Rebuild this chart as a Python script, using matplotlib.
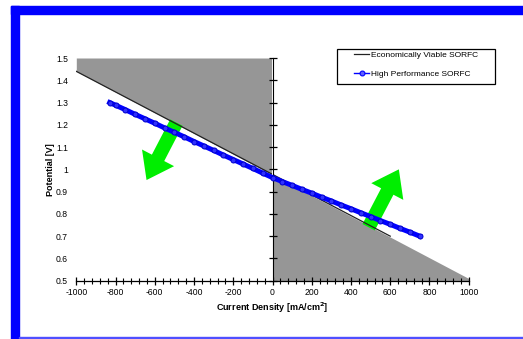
import matplotlib
matplotlib.use("Agg")
import matplotlib.pyplot as plt
import numpy as np
from matplotlib.patches import FancyArrowPatch, Rectangle
from matplotlib.lines import Line2D
from matplotlib.ticker import MultipleLocator

plt.rcParams['font.family'] = ['Liberation Sans', 'DejaVu Sans']

# Economically viable SORFC line
econ_x = [-1000, 600]
econ_y = [1.44, 0.70]

# Gray region boundary (extension of the economic line)
bound_x = [-1000, 0, 1000]
bound_y = [1.44, 0.975, 0.51]

# High performance SORFC
hp_x = [-830, -800, -750, -700, -650, -600, -550, -500, -450, -400, -350, -300,
        -250, -200, -150, -100, -50, 0, 50, 100, 150, 200, 250, 300, 350, 400,
        450, 500, 550, 600, 650, 700, 750]
hp_y = [1.300, 1.288, 1.268, 1.247, 1.227, 1.207, 1.186, 1.166, 1.146, 1.125,
        1.105, 1.085, 1.064, 1.044, 1.024, 1.004, 0.983, 0.963, 0.945, 0.928,
        0.910, 0.893, 0.875, 0.858, 0.840, 0.823, 0.805, 0.788, 0.770, 0.753,
        0.735, 0.718, 0.700]

x_ticks = [-1000, -800, -600, -400, -200, 0, 200, 400, 600, 800, 1000]
y_ticks = [0.5, 0.6, 0.7, 0.8, 0.9, 1.0, 1.1, 1.2, 1.3, 1.4, 1.5]
y_labels = ['0.5', '0.6', '0.7', '0.8', '0.9', '1', '1.1', '1.2', '1.3', '1.4', '1.5']

series_names = ['Economically Viable SORFC', 'High Performance SORFC']

W, H = 523, 339
fig = plt.figure(figsize=(W / 100, H / 100), dpi=100)
fig.patch.set_facecolor('white')

# blue frame
blue = '#0000ff'
fig.patches.append(Rectangle((11 / W, 0), 8 / W, (H - 6) / H, transform=fig.transFigure,
                             color=blue, zorder=0))
fig.patches.append(Rectangle((11 / W, (H - 14) / H), (W - 11) / W, 8 / H,
                             transform=fig.transFigure, color=blue, zorder=0))
fig.patches.append(Rectangle((19 / W, 1 / H), (W - 19) / W, 1.2 / H,
                             transform=fig.transFigure, color='#5050ff', zorder=0))

ax = fig.add_axes([76.3 / W, 1 - 280.7 / H, (468.7 - 76.3) / W, (280.7 - 58) / H])
ax.set_xlim(-1000, 1000)
ax.set_ylim(0.5, 1.5)

bx = np.array(bound_x, dtype=float)
by = np.array(bound_y, dtype=float)
ax.fill_between(bx[:2], by[:2], 1.5, color='#969696', lw=0, zorder=1)
ax.fill_between(bx[1:], 0.5, by[1:], color='#969696', lw=0, zorder=1)

ax.plot(econ_x, econ_y, color='#222222', lw=0.9, zorder=3)
ax.plot(hp_x, hp_y, color='#0000ff', lw=3.6, marker='o', ms=3.6, mfc='#3030ff',
        mec='#0000cc', mew=0.7, zorder=4)

# green arrows
for (x0, y0), (x1, y1) in [((-490, 1.21), (-642, 0.952)), ((490, 0.74), (644, 1.0))]:
    arr = FancyArrowPatch((x0, y0), (x1, y1),
                          arrowstyle='simple,head_width=2.6,head_length=1.8,tail_width=1.0',
                          mutation_scale=10, color='#00ee00', lw=0, zorder=2,
                          shrinkA=0, shrinkB=0)
    ax.add_patch(arr)

for s in ['top', 'right', 'left']:
    ax.spines[s].set_visible(False)
ax.spines['bottom'].set_linewidth(0.9)

ax.set_xticks(x_ticks)
ax.set_xticklabels([str(t) for t in x_ticks])
ax.xaxis.set_minor_locator(MultipleLocator(40))
ax.tick_params(axis='x', which='major', direction='inout', length=6, width=0.9,
               labelsize=6.2, pad=2)
ax.tick_params(axis='x', which='minor', direction='inout', length=4, width=0.8)

ax.set_yticks(y_ticks)
ax.set_yticklabels(y_labels)
ax.tick_params(axis='y', which='major', length=0, labelsize=6.2, pad=6)

sec = ax.secondary_yaxis(0.5)
sec.set_yticks(y_ticks)
sec.set_yticklabels([])
sec.tick_params(axis='y', direction='inout', length=6, width=0.9)
sec.spines['left'].set_color('#333333')
sec.spines['left'].set_linewidth(0.9)
sec.set_zorder(3)

ax.set_xlabel('Current Density [mA/cm$^\\mathbf{2}$]', fontsize=6.5, fontweight='bold',
              labelpad=3)
ax.set_ylabel('Potential [V]', fontsize=6.5, fontweight='bold', labelpad=1)

# legend frame
fig.patches.append(Rectangle((337.3 / W, 1 - 84.3 / H), (495 - 337.3) / W, 35 / H,
                             transform=fig.transFigure, facecolor='white',
                             edgecolor='black', lw=0.9, zorder=5))
handles = [Line2D([], [], color='#222222', lw=0.9),
           Line2D([], [], color='#0000ff', lw=1.0, marker='o', ms=3.5,
                  mfc='#6060ff', mec='#0000ff', mew=0.8)]
leg = fig.legend(handles, series_names, loc='upper left',
                 bbox_to_anchor=(354 / W, 1 - 51.5 / H),
                 fontsize=6, frameon=False, handlelength=1.8, handletextpad=0.2,
                 borderpad=0, labelspacing=1.25, borderaxespad=0)
leg.set_zorder(10)

fig.savefig('out.png', dpi=100)
